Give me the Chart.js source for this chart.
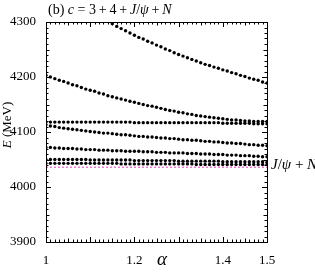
<!DOCTYPE html>
<html>
<head>
<meta charset="utf-8">
<script src="https://cdn.jsdelivr.net/npm/chart.js@4.4.1/dist/chart.umd.min.js"></script>
<style>
  html, body { margin: 0; padding: 0; background: #fff; }
  #grafico { display: block; }
</style>
</head>
<body>
<canvas id="grafico" width="315" height="273"></canvas>
<script>
// valori di alpha (asse x)
const alphas = [1.00, 1.01, 1.02, 1.03, 1.04, 1.05, 1.06, 1.07, 1.08, 1.09,
    1.10, 1.11, 1.12, 1.13, 1.14, 1.15, 1.16, 1.17, 1.18, 1.19,
    1.20, 1.21, 1.22, 1.23, 1.24, 1.25, 1.26, 1.27, 1.28, 1.29,
    1.30, 1.31, 1.32, 1.33, 1.34, 1.35, 1.36, 1.37, 1.38, 1.39,
    1.40, 1.41, 1.42, 1.43, 1.44, 1.45, 1.46, 1.47, 1.48, 1.49, 1.50];

// livelli di energia (MeV), uno per ogni alpha
const livello1 = [null, null, null, null, null, null, null, null, null, null,
    null, null, null, null, null, 4297, 4292, 4288, 4284, 4280,
    4276, 4272, 4269, 4265, 4262, 4258, 4255, 4251, 4248, 4244,
    4241, 4238, 4235, 4232, 4229, 4226, 4223, 4221, 4218, 4216,
    4213, 4211, 4208, 4206, 4203, 4201, 4198, 4196, 4194, 4191, 4189];
const livello2 = [4203, 4200, 4197, 4194, 4192, 4189, 4186, 4184, 4181, 4178,
    4176, 4174, 4171, 4169, 4166, 4164, 4162, 4160, 4158, 4156,
    4154, 4152, 4150, 4148, 4147, 4145, 4143, 4141, 4139, 4138,
    4136, 4135, 4133, 4132, 4130, 4129, 4128, 4127, 4126, 4125,
    4124, 4123, 4122, 4122, 4121, 4120, 4120, 4119, 4119, 4119, 4119];
const livello3 = [4118, 4118, 4118, 4118, 4118, 4118, 4118, 4118, 4118, 4118,
    4118, 4118, 4118, 4118, 4118, 4118, 4118, 4118, 4118, 4118,
    4117, 4117, 4117, 4117, 4117, 4117, 4117, 4117, 4117, 4117,
    4117, 4117, 4117, 4117, 4117, 4117, 4117, 4117, 4117, 4117,
    4116, 4116, 4116, 4116, 4116, 4116, 4116, 4115, 4115, 4115, 4115];
const livello4 = [4113, 4111, 4110, 4108, 4107, 4106, 4105, 4104, 4103, 4102,
    4101, 4100, 4099, 4098, 4098, 4097, 4096, 4095, 4095, 4094,
    4093, 4092, 4092, 4091, 4091, 4090, 4089, 4089, 4088, 4088,
    4087, 4086, 4086, 4085, 4085, 4084, 4083, 4083, 4082, 4082,
    4081, 4080, 4080, 4079, 4079, 4078, 4077, 4077, 4076, 4076, 4075];
const livello5 = [4072, 4072, 4071, 4071, 4070, 4070, 4070, 4069, 4069, 4068,
    4068, 4068, 4067, 4067, 4067, 4066, 4066, 4066, 4065, 4065,
    4065, 4065, 4064, 4064, 4064, 4063, 4063, 4063, 4062, 4062,
    4062, 4062, 4061, 4061, 4061, 4060, 4060, 4060, 4059, 4059,
    4059, 4058, 4058, 4058, 4057, 4057, 4057, 4056, 4056, 4055, 4055];
const livello6 = [4050, 4050, 4050, 4050, 4050, 4050, 4050, 4050, 4050, 4050,
    4049, 4049, 4049, 4049, 4049, 4049, 4049, 4049, 4049, 4049,
    4048, 4048, 4048, 4048, 4048, 4048, 4048, 4048, 4048, 4048,
    4047, 4047, 4047, 4047, 4047, 4047, 4047, 4047, 4047, 4047,
    4046, 4046, 4046, 4046, 4046, 4046, 4046, 4046, 4046, 4046, 4045];
const livello7 = [4043, 4043, 4043, 4043, 4043, 4043, 4043, 4043, 4043, 4043,
    4043, 4043, 4043, 4043, 4043, 4043, 4043, 4042, 4042, 4042,
    4042, 4042, 4042, 4042, 4042, 4042, 4042, 4042, 4042, 4042,
    4042, 4042, 4042, 4042, 4041, 4041, 4041, 4041, 4041, 4041,
    4041, 4041, 4041, 4041, 4041, 4041, 4041, 4041, 4041, 4041, 4041];

// soglia J/psi + N
const sogliaAlpha = [1.0, 1.5];
const sogliaE = [4036, 4036];

// etichette degli assi
const xTickLabels = [1, 1.2, 1.4, 1.5];
const yTickLabels = [3900, 4000, 4100, 4200, 4300];

const livelli = [livello1, livello2, livello3, livello4, livello5, livello6, livello7];

// Funzione per creare i punti {x, y} da alpha e energia
function creaPunti(xs, ys) {
    const punti = [];
    xs.forEach((a, i) => {
        if (ys[i] !== null) punti.push({ x: a, y: ys[i] });
    });
    return punti;
}

const SERIF = '"Liberation Serif", "DejaVu Serif", serif';
const SP = '\u2009'; // spazio sottile

//---[ PLUGIN: cornice, tacche interne e testi ]---
const cornice = {
    id: 'cornice',
    afterDraw(chart) {
        const ctx = chart.ctx;
        const area = chart.chartArea;
        const sx = chart.scales.x;
        const sy = chart.scales.y;
        ctx.save();
        ctx.strokeStyle = '#000';
        ctx.lineWidth = 1;
        ctx.strokeRect(Math.round(area.left) + 0.5, Math.round(area.top) + 0.5,
            Math.round(area.right - area.left), Math.round(area.bottom - area.top));

        // tacche asse x (ogni 0.01)
        ctx.beginPath();
        for (let k = 100; k <= 150; k++) {
            const px = Math.round(sx.getPixelForValue(k / 100)) + 0.5;
            let len = 2.5;
            if (k % 10 === 0) len = 5;
            else if (k % 5 === 0) len = 3.5;
            ctx.moveTo(px, area.bottom);
            ctx.lineTo(px, area.bottom - len);
            ctx.moveTo(px, area.top);
            ctx.lineTo(px, area.top + len);
        }
        // tacche asse y (ogni 10 MeV)
        for (let v = 3900; v <= 4300; v += 10) {
            const py = Math.round(sy.getPixelForValue(v)) + 0.5;
            let len = 2.5;
            if (v % 100 === 0) len = 5;
            else if (v % 50 === 0) len = 3.5;
            ctx.moveTo(area.left, py);
            ctx.lineTo(area.left + len, py);
            ctx.moveTo(area.right, py);
            ctx.lineTo(area.right - len, py);
        }
        ctx.stroke();

        ctx.fillStyle = '#000';
        ctx.textBaseline = 'middle';

        // titolo asse x
        ctx.font = 'italic 19px ' + SERIF;
        ctx.textAlign = 'center';
        ctx.fillText('α', 162, 260);

        // titolo asse y
        ctx.save();
        ctx.translate(8, 125);
        ctx.rotate(-Math.PI / 2);
        scriviMisto(ctx, [['E', true], [' (MeV)', false]], 13, 0, 0, 'center');
        ctx.restore();

        // titolo del pannello
        scriviMisto(ctx, [['(b) ', false], ['c', true], [' = 3' + SP + '+' + SP + '4' + SP + '+' + SP, false],
            ['J', true], ['/', false], ['ψ', true], [SP + '+' + SP, false], ['N', true]], 14, 48, 10, 'left');

        // etichetta della soglia
        const ySoglia = sy.getPixelForValue(sogliaE[0]);
        scriviMisto(ctx, [['J', true], ['/', false], ['ψ', true], [' + ', false], ['N', true]],
            15, area.right + 4, ySoglia - 2, 'left');
        ctx.restore();
    }
};

// Funzione per scrivere testo con parti in corsivo
function scriviMisto(ctx, parti, size, x, y, align) {
    let totale = 0;
    parti.forEach(p => {
        ctx.font = (p[1] ? 'italic ' : '') + size + 'px ' + SERIF;
        totale += ctx.measureText(p[0]).width;
    });
    let cx = align === 'center' ? x - totale / 2 : x;
    ctx.textAlign = 'left';
    ctx.textBaseline = 'middle';
    parti.forEach(p => {
        ctx.font = (p[1] ? 'italic ' : '') + size + 'px ' + SERIF;
        ctx.fillText(p[0], cx, y);
        cx += ctx.measureText(p[0]).width;
    });
}

// dataset dei livelli
const datasets = livelli.map(l => ({
    data: creaPunti(alphas, l),
    showLine: false,
    pointRadius: 1.7,
    pointBorderWidth: 0,
    pointBackgroundColor: '#000',
    borderColor: '#000'
}));

// linea tratteggiata della soglia
datasets.unshift({
    data: creaPunti(sogliaAlpha, sogliaE),
    showLine: true,
    borderColor: '#e83cc8',
    borderWidth: 1,
    borderDash: [2, 2],
    pointRadius: 0
});

const ctx = document.getElementById('grafico').getContext('2d');
new Chart(ctx, {
    type: 'scatter',
    data: { datasets: datasets },
    options: {
        responsive: false,
        animation: false,
        layout: { padding: { top: 22, right: 48, left: 0, bottom: 0 } },
        plugins: {
            legend: { display: false },
            tooltip: { enabled: false }
        },
        scales: {
            x: {
                type: 'linear',
                min: 1,
                max: 1.5,
                grid: { display: false },
                border: { display: false },
                ticks: {
                    color: '#000',
                    font: { family: SERIF, size: 13 },
                    padding: 3,
                    maxRotation: 0,
                    autoSkip: false,
                    callback: v => String(v)
                },
                afterBuildTicks: scale => {
                    scale.ticks = xTickLabels.map(v => ({ value: v }));
                },
                afterFit: scale => { scale.height = 31; }
            },
            y: {
                min: 3900,
                max: 4300,
                grid: { display: false },
                border: { display: false },
                ticks: {
                    color: '#000',
                    font: { family: SERIF, size: 13 },
                    padding: 2,
                    autoSkip: false,
                    callback: v => String(v)
                },
                afterBuildTicks: scale => {
                    scale.ticks = yTickLabels.map(v => ({ value: v }));
                },
                afterFit: scale => { scale.width = 46; }
            }
        }
    },
    plugins: [cornice]
});
</script>
</body>
</html>
